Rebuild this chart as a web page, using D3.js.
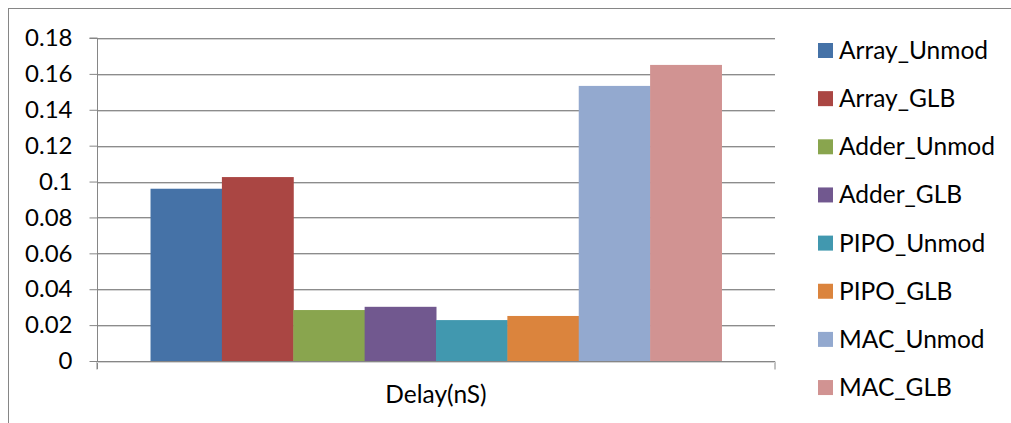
<!DOCTYPE html>
<html>
<head>
<meta charset="utf-8">
<script src="https://cdn.jsdelivr.net/npm/d3@7"></script>
<style>
  html, body { margin: 0; padding: 0; background: #fff; }
  svg { display: block; font-family: Lato, "Liberation Sans", sans-serif; }
</style>
</head>
<body>
<svg id="chart" width="1011" height="423"></svg>
<script>
// Delay of each design, unmodified vs. GLB version
const category = "Delay(nS)";
const seriesNames = ["Array_Unmod", "Array_GLB", "Adder_Unmod", "Adder_GLB",
                     "PIPO_Unmod", "PIPO_GLB", "MAC_Unmod", "MAC_GLB"];
const seriesValues = [0.096, 0.1025, 0.0284, 0.0302, 0.0228, 0.0251, 0.1533, 0.165];
const seriesColors = ["#4572a7", "#aa4643", "#89a54e", "#71588f",
                      "#4198af", "#db843d", "#93a9cf", "#d19392"];
const yTicks = [0, 0.02, 0.04, 0.06, 0.08, 0.1, 0.12, 0.14, 0.16, 0.18];

const svg = d3.select("#chart");
const plot = { left: 97, right: 775, top: 38, bottom: 361 };

// outer chart frame (only top/left edges fall inside the view)
svg.append("rect")
  .attr("x", 8.5).attr("y", 8.5)
  .attr("width", 1100).attr("height", 500)
  .attr("fill", "none").attr("stroke", "#868686").attr("stroke-width", 1);

const y = d3.scaleLinear().domain([0, 0.18]).range([plot.bottom, plot.top]);

// category band with 150% gap width, series packed side by side inside it
const x0 = d3.scaleBand().domain([category]).range([plot.left, plot.right])
  .paddingInner(0).paddingOuter(0);
const bandW = x0.bandwidth();
const barW = bandW / (seriesNames.length + 1.5);
const x1 = d3.scaleBand().domain(seriesNames)
  .range([x0(category) + barW * 0.75, x0(category) + bandW - barW * 0.75])
  .padding(0);

// horizontal gridlines
const grid = svg.append("g");
yTicks.filter(t => t > 0).forEach(t => {
  const yy = Math.round(y(t));
  grid.append("line").attr("x1", plot.left).attr("x2", plot.right)
    .attr("y1", yy + 1.5).attr("y2", yy + 1.5).attr("stroke", "#d4d4d4");
  grid.append("line").attr("x1", plot.left).attr("x2", plot.right)
    .attr("y1", yy + 0.5).attr("y2", yy + 0.5).attr("stroke", "#8c8c8c");
});

// bars
svg.append("g").selectAll("rect")
  .data(seriesNames.map((n, i) => ({ name: n, value: seriesValues[i], color: seriesColors[i] })))
  .join("rect")
  .attr("x", d => x1(d.name))
  .attr("width", x1.bandwidth() + 0.5)
  .attr("y", d => y(d.value))
  .attr("height", d => y(0) - y(d.value))
  .attr("fill", d => d.color);

// y axis
const yAxis = svg.append("g")
  .attr("transform", `translate(${plot.left + 0.5},0)`)
  .call(d3.axisLeft(y).tickValues(yTicks).tickSize(8).tickPadding(17)
    .tickFormat(d => d3.format("")(+d.toFixed(2))));
yAxis.select(".domain").attr("stroke", "#868686").attr("d", `M-8,${plot.top}H0V${plot.bottom + 8}`);
yAxis.selectAll(".tick line").attr("stroke", "#868686");
yAxis.selectAll(".tick text").attr("fill", "#000").style("font-size", "24px")
  .style("font-family", "Lato, sans-serif");

// x axis
const xAxis = svg.append("g")
  .attr("transform", `translate(0,${plot.bottom + 0.5})`)
  .call(d3.axisBottom(x0).tickSize(0).tickPadding(0));
xAxis.select(".domain").attr("stroke", "#868686")
  .attr("d", `M${plot.left},8V0H${plot.right}V8`);
xAxis.selectAll(".tick text").remove();
svg.append("line").attr("x1", plot.left).attr("x2", plot.right)
  .attr("y1", plot.bottom + 1.5).attr("y2", plot.bottom + 1.5).attr("stroke", "#d4d4d4");
svg.append("text")
  .attr("x", x0(category) + bandW / 2).attr("y", 403)
  .attr("text-anchor", "middle").style("font-size", "24.5px").text(category);

// legend
const legend = svg.append("g");
seriesNames.forEach((n, i) => {
  const cy = 50 + i * 48.15;
  legend.append("rect").attr("x", 818).attr("y", cy - 7).attr("width", 15).attr("height", 15)
    .attr("fill", seriesColors[i]);
  legend.append("text").attr("x", 839).attr("y", cy + 9)
    .style("font-size", "24.5px").text(n);
});
</script>
</body>
</html>
